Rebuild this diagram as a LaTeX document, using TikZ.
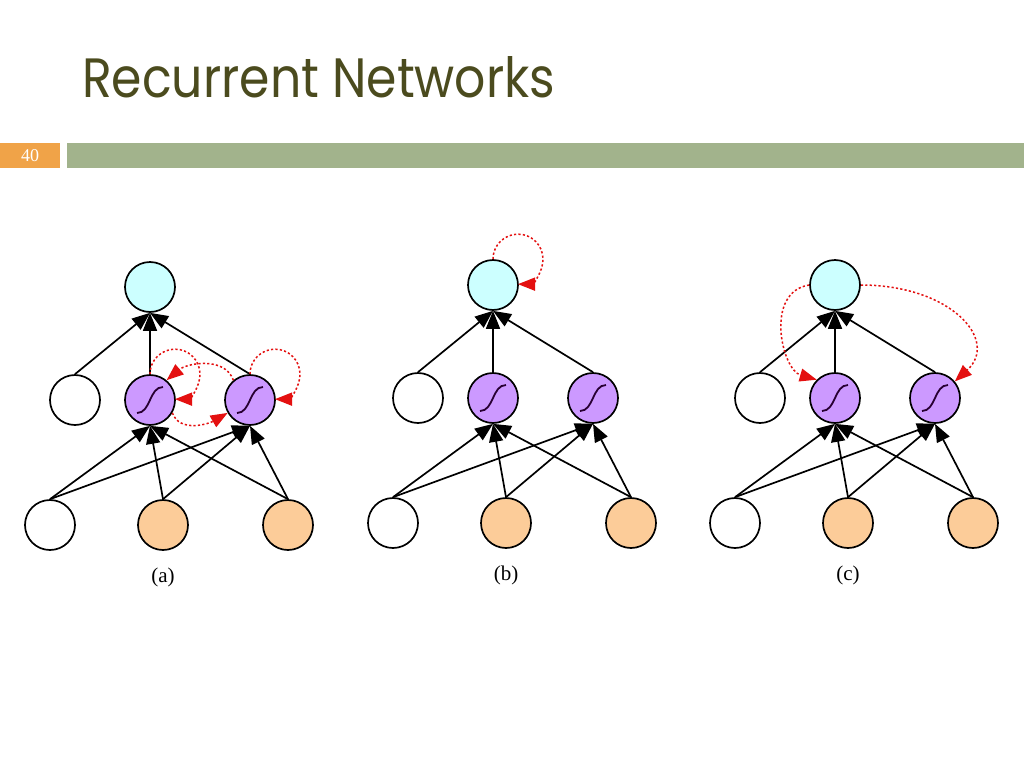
\documentclass[tikz,border=0pt]{standalone}
\usepackage{fontspec}
\setmainfont{Liberation Serif}
\newfontfamily\titlefont{Poppins}
\usetikzlibrary{arrows.meta}
\definecolor{titlec}{RGB}{75,75,30}
\definecolor{barg}{RGB}{162,179,140}
\definecolor{baro}{RGB}{240,163,72}
\definecolor{cyanf}{RGB}{204,255,255}
\definecolor{purf}{RGB}{204,153,255}
\definecolor{orf}{RGB}{252,204,153}
\definecolor{sigc}{RGB}{40,0,50}
\definecolor{recc}{RGB}{228,16,16}
\newcommand\drawpanel[5]{%
 \begin{scope}[shift={(#2,#3)}]
 \node[outn] (#1t) at (150,-287) {};
 \node[inw] (#1hw) at (75,-400) {};
 \node[hidn] (#1h1) at (150,-400) {};
 \node[hidn] (#1h2) at (250,-400) {};
 \node[inw] (#1bw) at (50,-525) {};
 \node[inb] (#1b1) at (163,-525) {};
 \node[inb] (#1b2) at (288,-525) {};
 \node[lab] (#1lab) at (163,-577) {(#4)};
 \foreach \s in {hw,h1,h2} {\draw[ff] (#1\s.north) -- (#1t.south);}
 \foreach \s in {bw,b1,b2} {\draw[ff] (#1\s.north) -- (#1h1.south); \draw[ff] (#1\s.north) -- (#1h2.south);}
 \end{scope}}
\begin{document}
\begin{tikzpicture}[x=1pt,y=1pt,
 neuron/.style={circle,draw=black,line width=1.7pt,minimum size=50pt,inner sep=0pt},
 outn/.style={neuron,fill=cyanf},
 inw/.style={neuron,fill=white},
 inb/.style={neuron,fill=orf},
 hidn/.style={neuron,fill=purf,path picture={%
   \draw[sigc,line width=1.8pt] ([shift={(-13,-13)}]path picture bounding box.center)
     .. controls ([shift={(1,-13)}]path picture bounding box.center)
     and ([shift={(-1,13)}]path picture bounding box.center)
     .. ([shift={(13,13)}]path picture bounding box.center);}},
 ff/.style={line width=1.7pt,-{Triangle[length=18pt,width=14pt]}},
 rec/.style={recc,line width=1.5pt,dash pattern=on 2.2pt off 2.2pt,-{Triangle[length=17pt,width=13pt]}},
 lab/.style={font=\fontsize{21}{21}\selectfont,inner sep=0pt}]
\useasboundingbox (0,0) rectangle (1024,-768);
\fill[white] (0,0) rectangle (1024,-768);
% header
\node[anchor=base west,inner sep=0pt,text=titlec] (title) at (82,-97)
  {\resizebox{473pt}{41pt}{\titlefont\fontsize{60}{60}\selectfont Recurrent Networks}};
\fill[baro] (0,-143) rectangle (60,-168);
\fill[barg] (67,-143) rectangle (1024,-168);
\node[text=white,font=\fontsize{18}{18}\selectfont,inner sep=0pt] (pnum) at (30,-156) {40};
% panels
\drawpanel{a}{0}{0}{a}{}
\drawpanel{b}{343}{2}{b}{}
\drawpanel{c}{685}{2}{c}{}
% (a) recurrences
\draw[rec] (ah1.north) arc[start angle=180,end angle=-90,radius=25pt];
\draw[rec] (ah2.north) arc[start angle=180,end angle=-90,radius=25pt];
\draw[rec] (ah1.-30) to[out=-70,in=-150] (ah2.210);
\draw[rec] (ah2.130) to[out=110,in=40] (ah1.50);
% (b) recurrence
\draw[rec] (bt.north) arc[start angle=180,end angle=-90,radius=25pt];
% (c) recurrences
\draw[rec] (ct.west) .. controls +(-45,-7) and +(-35,10) .. (ch1.135);
\draw[rec] (ct.east) .. controls +(90,0) and +(45,41) .. (ch2.40);
\end{tikzpicture}
\end{document}
